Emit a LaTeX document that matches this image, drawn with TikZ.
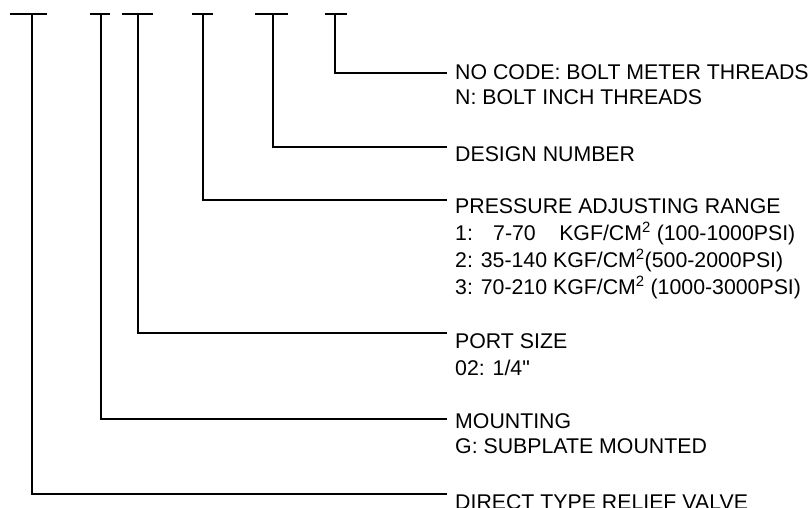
\documentclass[tikz,border=0pt]{standalone}
\usepackage{fontspec}
\setmainfont{Liberation Sans}
\usetikzlibrary{positioning}

\begin{document}
\begin{tikzpicture}[
		x=1pt, y=-1pt
		,lead/.style={line width=1.8pt}
		,lbl/.style={anchor=base west, inner sep=0pt, align=left, font=\fontsize{21.3}{25}\selectfont}
		,wide/.style={font=\fontsize{21.3}{27}\selectfont}
	]
	\clip (0,0) rectangle (811,508);
	% code positions along the top, with the row each one is explained in
	\foreach \x/\l/\r/\y [count=\i] in {32/10/47/494, 101/90/110/419, 138/122/153/333, 203/192/213/200, 273/255/288/147, 335/325/347/73} {
		\coordinate (barL\i) at (\l,14);
		\coordinate (barR\i) at (\r,14);
		\coordinate (top\i) at (\x,14);
		\coordinate (end\i) at (447,\y);
		\draw [lead] (barL\i) -- (barR\i);
		\draw [lead] (top\i) |- (end\i);
	}
	% multi-line labels sit on the baseline of their last line
	\node [lbl] (thread) at (455,105) {NO CODE: BOLT METER THREADS\\N: BOLT INCH THREADS};
	\node [lbl] (design) at (455,161) {DESIGN NUMBER};
	\node [lbl, wide] (range) at (455,294) {PRESSURE ADJUSTING RANGE\\
		1:\hspace{0.95em}7-70\hspace{1.1em}KGF/CM\textsuperscript{2} (100-1000PSI)\\
		2: 35-140 KGF/CM\textsuperscript{2}(500-2000PSI)\\
		3: 70-210 KGF/CM\textsuperscript{2} (1000-3000PSI)};
	\node [lbl, wide] (port) at (455,375) {PORT SIZE\\02: 1/4\textquotedbl};
	\node [lbl] (mount) at (455,453) {MOUNTING\\G: SUBPLATE MOUNTED};
	\node [lbl] (valve) at (455,509) {DIRECT TYPE RELIEF VALVE};
\end{tikzpicture}
\end{document}
